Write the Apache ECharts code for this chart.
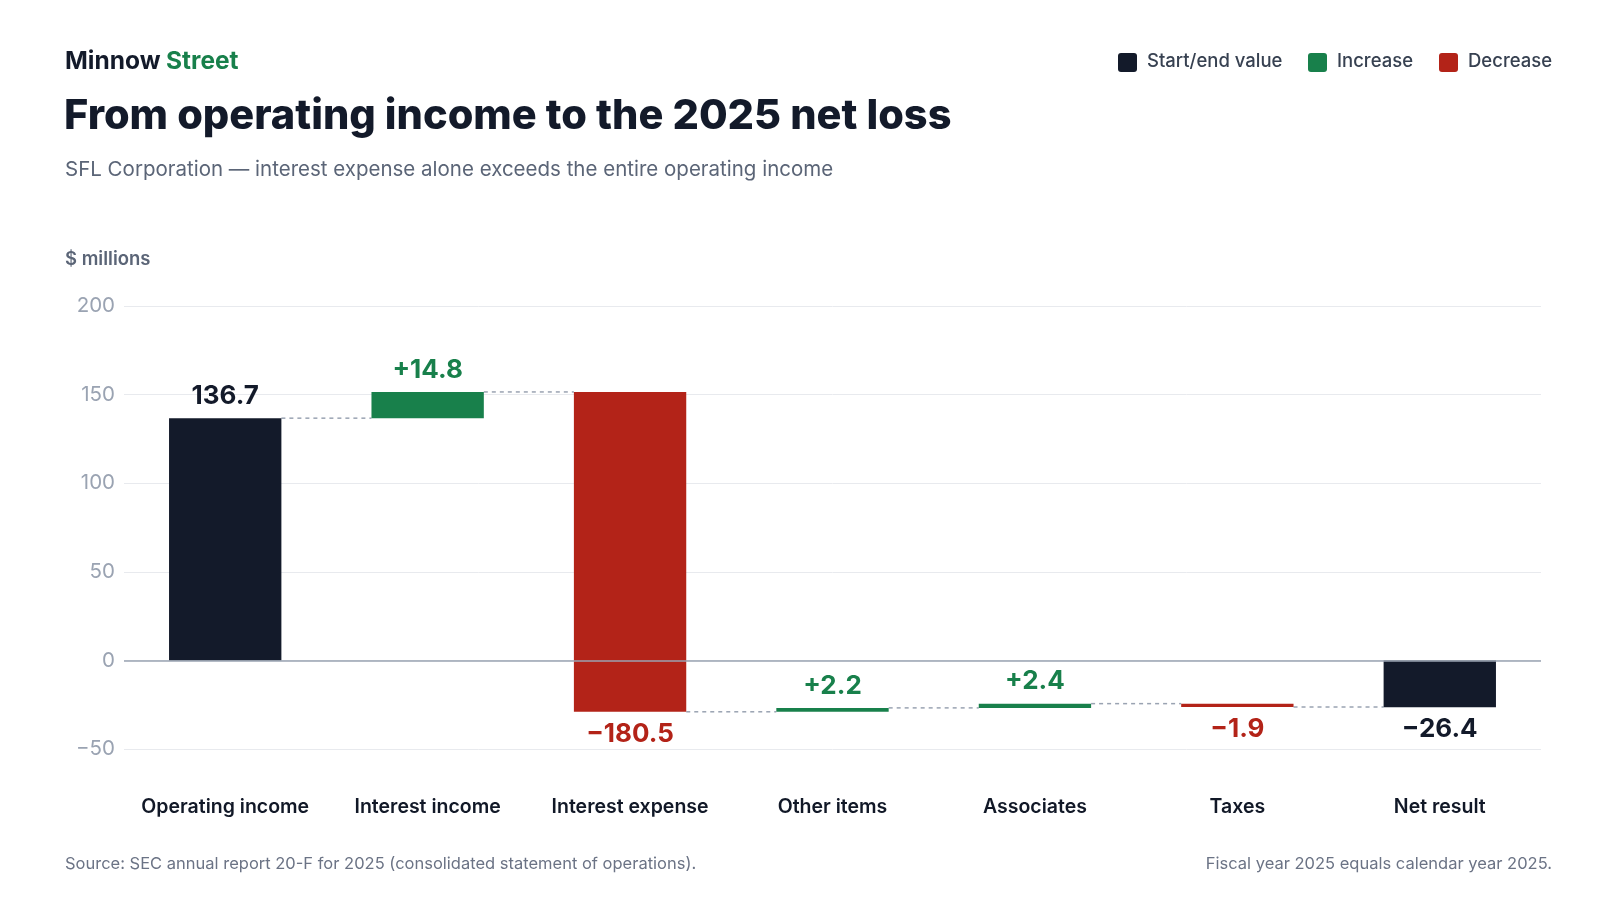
<!DOCTYPE html>
<html><head><meta charset="utf-8">
<script src="https://cdn.jsdelivr.net/npm/echarts@6/dist/echarts.min.js"></script>
<style>html,body{margin:0;background:#fff}#c{width:1600px;height:900px}</style>
</head><body><div id="c"></div>
<script>
const categories = ['Operating income','Interest income','Interest expense','Other items','Associates','Taxes','Net result'];
const deltas = [136.7, 14.8, -180.5, 2.2, 2.4, -1.9, -26.4];
const kinds = ['total','inc','dec','inc','inc','dec','total'];
const labels = ['136.7','+14.8','\u2212180.5','+2.2','+2.4','\u22121.9','\u221226.4'];
const yTicks = [-50, 0, 50, 100, 150, 200];

const colors = {total:'#131a2a', inc:'#18804b', dec:'#b32318'};
let run = 0; const bars = []; const levels = [];
deltas.forEach((d,i)=>{
  let lo, hi;
  if (kinds[i]==='total'){ lo=Math.min(0,d); hi=Math.max(0,d); run=d; }
  else { const s=run; run=s+d; lo=Math.min(s,run); hi=Math.max(s,run); }
  bars.push([i, lo, hi, kinds[i], d>=0?1:-1]);
  levels.push([i, run]);
});
const conns = levels.slice(0,-1);

const chart = echarts.init(document.getElementById('c'));
const F = 'Inter, "Noto Sans", sans-serif';
chart.setOption({
  animation:false,
  textStyle:{fontFamily:F},
  grid:{left:124,right:59,top:306,bottom:151},
  xAxis:{type:'category',data:categories,axisLine:{show:false},axisTick:{show:false},
    axisLabel:{fontFamily:F,fontSize:19.5,fontWeight:600,color:'#111827',margin:48,interval:0}},
  yAxis:{type:'value',min:-50,max:200,interval:50,
    axisLabel:{fontFamily:F,fontSize:20.5,color:'#9aa3b2',margin:9,formatter:v=>v<0?'\u2212'+Math.abs(v):String(v)},
    splitLine:{lineStyle:{color:'#e8eaee'}}},
  graphic:[
    {type:'text',left:65,top:49,style:{text:'Minnow',font:'bold 24.5px '+F,fill:'#131a2a'}},
    {type:'text',left:166,top:49,style:{text:'Street',font:'bold 24.5px '+F,fill:'#18804b'}},
    {type:'text',left:64,top:96,style:{text:'From operating income to the 2025 net loss',font:'800 41.5px '+F,fill:'#131a2a'}},
    {type:'text',left:65,top:159,style:{text:'SFL Corporation \u2014 interest expense alone exceeds the entire operating income',font:'20.5px '+F,fill:'#5b6577'}},
    {type:'text',left:65,top:250,style:{text:'$ millions',font:'600 18.5px '+F,fill:'#5b6577'}},
    {type:'text',left:65,top:856,style:{text:'Source: SEC annual report 20-F for 2025 (consolidated statement of operations).',font:'16.5px '+F,fill:'#6b7385'}},
    {type:'text',right:48,top:856,style:{text:'Fiscal year 2025 equals calendar year 2025.',font:'16.5px '+F,fill:'#6b7385',align:'right'}},
    {type:'rect',left:1118,top:53,shape:{width:19,height:19,r:3},style:{fill:colors.total}},
    {type:'text',left:1147,top:52,style:{text:'Start/end value',font:'500 18.5px '+F,fill:'#374151'}},
    {type:'rect',left:1308,top:53,shape:{width:19,height:19,r:3},style:{fill:colors.inc}},
    {type:'text',left:1337,top:52,style:{text:'Increase',font:'500 18.5px '+F,fill:'#374151'}},
    {type:'rect',left:1439,top:53,shape:{width:19,height:19,r:3},style:{fill:colors.dec}},
    {type:'text',left:1468,top:52,style:{text:'Decrease',font:'500 18.5px '+F,fill:'#374151'}}
  ],
  series:[
    {type:'custom',data:conns,z:1,renderItem:(p,api)=>{
      const w=api.size([1,0])[0]*0.555;
      const a=api.coord([api.value(0),api.value(1)]);
      const b=api.coord([api.value(0)+1,api.value(1)]);
      return {type:'line',shape:{x1:a[0]+w/2,y1:a[1],x2:b[0]-w/2,y2:b[1]},style:{stroke:'#9aa3b2',lineWidth:1.5,lineDash:[4,4]}};
    }},
    {type:'custom',data:bars,z:3,renderItem:(p,api)=>{
      const i=p.dataIndex; const w=api.size([1,0])[0]*0.555;
      const top=api.coord([api.value(0),api.value(2)]);
      const bot=api.coord([api.value(0),api.value(1)]);
      const k=kinds[i]; const c=colors[k];
      let h=Math.max(bot[1]-top[1],3);
      const up=deltas[i]>=0;
      const ty = up? top[1]-9 : top[1]+h+9;
      return {type:'group',children:[
        {type:'rect',shape:{x:top[0]-w/2,y:top[1],width:w,height:h},style:{fill:c}},
        {type:'text',style:{x:top[0],y:ty,text:labels[i],font:'bold 26px '+F,fill:c,align:'center',verticalAlign:up?'bottom':'top'}}
      ]};
    },
    markLine:{symbol:'none',silent:true,label:{show:false},data:[{yAxis:0}],lineStyle:{color:'#9aa3b2',type:'solid',width:1.5}}}
  ]
});
</script></body></html>
